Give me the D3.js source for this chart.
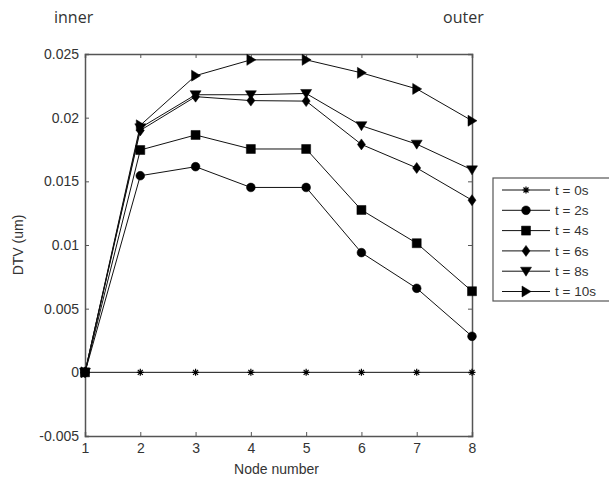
<!DOCTYPE html>
<html>
<head>
<meta charset="utf-8">
<script src="https://cdn.jsdelivr.net/npm/d3@7"></script>
<style>
    body { margin: 0; background: #fff; }
    .tick text { font-family: "Liberation Sans", Arial, sans-serif; font-size: 14px; fill: #333; }
    .lbl { font-family: "Liberation Sans", Arial, sans-serif; font-size: 14px; fill: #333; }
    .side { font-family: "Open Sans", "Noto Sans", sans-serif; font-size: 16px; fill: #333; }
</style>
</head>
<body>
<div id="chart"></div>
<script>

// data
var nodes = [1, 2, 3, 4, 5, 6, 7, 8];
var seriesNames = ["t = 0s", "t = 2s", "t = 4s", "t = 6s", "t = 8s", "t = 10s"];
var t0s  = [0, 0, 0, 0, 0, 0, 0, 0];
var t2s  = [0, 0.01544, 0.01615, 0.01452, 0.01452, 0.0094, 0.0066, 0.00283];
var t4s  = [0, 0.01746, 0.01864, 0.01754, 0.01754, 0.01275, 0.01014, 0.00637];
var t6s  = [0, 0.0190, 0.02165, 0.02134, 0.0213, 0.0179, 0.01605, 0.01352];
var t8s  = [0, 0.0192, 0.0218, 0.0218, 0.0219, 0.01937, 0.01792, 0.0159];
var t10s = [0, 0.0194, 0.0233, 0.02454, 0.02454, 0.02352, 0.02226, 0.01976];
var yTicks = [-0.005, 0, 0.005, 0.01, 0.015, 0.02, 0.025];
var yTickLabels = ["-0.005", "0", "0.005", "0.01", "0.015", "0.02", "0.025"];

var allSeries = [t0s, t2s, t4s, t6s, t8s, t10s];
var markers = ["star", "circle", "square", "diamond", "tridown", "triright"];

var margin = {top: 54, left: 85},
    width = 387,
    height = 382;

var svg = d3.select("#chart").append("svg")
    .attr("width", 609)
    .attr("height", 479);

var g = svg.append("g")
    .attr("transform", "translate(" + margin.left + "," + margin.top + ")");

var x = d3.scaleLinear().domain([1, 8]).range([0, width]);
var y = d3.scaleLinear().domain([-0.005, 0.025]).range([height, 0]);

var axisColor = "#555";

// axes, matlab box style with inward ticks
var xAxis = d3.axisBottom(x).tickValues(nodes).tickSize(-4).tickPadding(7).tickFormat(d3.format("d"));
var yAxis = d3.axisLeft(y).tickValues(yTicks).tickSize(-4).tickPadding(6)
    .tickFormat(function(d, i) { return yTickLabels[i]; });

g.append("g").attr("transform", "translate(0," + height + ")").call(xAxis);
g.append("g").call(yAxis);
g.append("g").call(d3.axisTop(x).tickValues(nodes).tickSize(-4).tickFormat(""));
g.append("g").attr("transform", "translate(" + width + ",0)")
    .call(d3.axisRight(y).tickValues(yTicks).tickSize(-4).tickFormat(""));

g.selectAll(".domain").attr("stroke", axisColor).attr("stroke-width", 1.5);
g.selectAll(".tick line").attr("stroke", axisColor);

// marker shapes
function markerPath(type) {
    if (type == "circle") return d3.symbol(d3.symbolCircle, 60)();
    if (type == "square") return "M-4.5,-4.5H4.5V4.5H-4.5Z";
    if (type == "diamond") return "M0,-5.5L4,0L0,5.5L-4,0Z";
    if (type == "tridown") return "M-5.5,-4L5.5,-4L0,5Z";
    if (type == "triright") return "M-4,-5.5L5,0L-4,5.5Z";
    return "M-3.5,0H3.5M0,-3.5V3.5M-2.5,-2.5L2.5,2.5M-2.5,2.5L2.5,-2.5";
}

function drawMarker(sel, type) {
    sel.append("path")
        .attr("d", markerPath(type))
        .attr("fill", type == "star" ? "none" : "#000")
        .attr("stroke", "#000")
        .attr("stroke-width", type == "star" ? 1.2 : 0.5);
}

var line = d3.line()
    .x(function(d, i) { return x(nodes[i]); })
    .y(function(d) { return y(d); });

allSeries.forEach(function(s, k) {
    g.append("path")
        .datum(s)
        .attr("d", line)
        .attr("fill", "none")
        .attr("stroke", "#111")
        .attr("stroke-width", 1);
});

allSeries.forEach(function(s, k) {
    s.forEach(function(v, i) {
        var m = g.append("g")
            .attr("transform", "translate(" + x(nodes[i]) + "," + y(v) + ")");
        drawMarker(m, markers[k]);
    });
});

// axis labels
svg.append("text")
    .attr("class", "lbl")
    .attr("x", margin.left + width / 2 - 2)
    .attr("y", 474)
    .attr("text-anchor", "middle")
    .text("Node number");

svg.append("text")
    .attr("class", "lbl")
    .attr("transform", "translate(23," + (margin.top + height / 2) + ") rotate(-90)")
    .attr("text-anchor", "middle")
    .text("DTV (um)");

// inner / outer captions
svg.append("text").attr("class", "side").attr("x", 54).attr("y", 23).text("inner");
svg.append("text").attr("class", "side").attr("x", 443).attr("y", 23).text("outer");

// legend
var legend = svg.append("g").attr("transform", "translate(493,178)");
legend.append("rect")
    .attr("width", 130)
    .attr("height", 123)
    .attr("fill", "#fff")
    .attr("stroke", axisColor)
    .attr("stroke-width", 1.2);

seriesNames.forEach(function(name, k) {
    var row = legend.append("g").attr("transform", "translate(0," + (12 + k * 20.3) + ")");
    row.append("line")
        .attr("x1", 9).attr("x2", 57)
        .attr("stroke", "#111");
    var m = row.append("g").attr("transform", "translate(33,0)");
    drawMarker(m, markers[k]);
    row.append("text")
        .attr("class", "lbl")
        .attr("x", 62)
        .attr("dy", "0.35em")
        .style("font-size", "13.5px")
        .text(name);
});

</script>
</body>
</html>
